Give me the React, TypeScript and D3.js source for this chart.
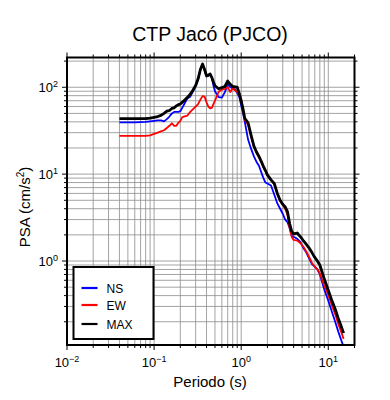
import * as d3 from 'd3'

const width = 390
const height = 400
const left = 67
const right = 354.5
const top = 57.5
const bottom = 345

// periods (s)
const periods = [
  0.04, 0.06, 0.08, 0.09, 0.1, 0.11, 0.12, 0.13, 0.14, 0.15, 0.16, 0.17, 0.18, 0.19, 0.2, 0.21, 0.22,
  0.24, 0.26, 0.28, 0.3, 0.32, 0.34, 0.36, 0.38, 0.4, 0.42, 0.44, 0.46, 0.48, 0.5, 0.55, 0.6, 0.65,
  0.7, 0.75, 0.8, 0.85, 0.9, 0.95, 1.0, 1.05, 1.1, 1.2, 1.3, 1.4, 1.5, 1.6, 1.7, 1.8, 1.9, 2.0, 2.2,
  2.4, 2.6, 2.8, 3.0, 3.2, 3.4, 3.6, 3.8, 4.0, 4.4, 4.8, 5.2, 5.6, 6.0, 6.5, 7.0, 7.5, 8.0, 9.0, 10,
  11, 12, 13, 14, 15,
]

const ns = [
  39.5, 39.5, 40, 40.5, 41, 41.5, 41.5, 40.5, 43, 46, 50, 52, 52, 52, 53, 58, 63,
  74, 78, 90, 103, 123, 158, 183, 158, 133, 136, 140, 128, 105, 90, 77, 76, 88,
  108, 100, 97, 94, 86, 78, 62, 50, 40, 25, 19.5, 16, 13.8, 12.5, 10.5, 9, 8, 7.8, 7.4,
  5.8, 4.6, 4.0, 3.5, 3.0, 2.8, 2.4, 1.95, 1.9, 1.8, 1.65, 1.4, 1.25, 1.08, 0.92, 0.86, 0.8, 0.7, 0.47, 0.35,
  0.26, 0.2, 0.155, 0.125, 0.103,
]

const ew = [
  27.5, 27.5, 27.5, 28, 29, 30, 31, 32, 34, 36, 38.5, 36, 36, 39, 41, 45, 46,
  47, 52, 56, 60, 64, 72, 79, 78, 67, 60, 57, 58, 64, 70, 88, 94, 96,
  100, 88, 98, 92, 88, 82, 72, 54, 42, 37, 27, 20.5, 17.5, 15.5, 13.8, 12, 10.8, 9.6, 8.6,
  7.6, 5.9, 4.9, 4.4, 4.0, 3.4, 2.4, 1.9, 1.75, 1.72, 1.6, 1.45, 1.28, 1.12, 0.95, 0.86, 0.8, 0.72, 0.52, 0.41,
  0.31, 0.245, 0.19, 0.155, 0.127,
]

const max = [
  43.5, 43.5, 43.5, 44, 45, 46, 47.5, 50, 53, 54, 57, 58, 61, 63, 64, 67, 70,
  76, 83, 93, 105, 125, 160, 185, 160, 135, 138, 142, 130, 115, 104, 96, 99, 102,
  118, 108, 102, 101, 100, 85, 70, 56, 44, 39, 28, 21, 18, 16, 14, 12.3, 11, 9.8, 8.6,
  7.8, 6.0, 5.0, 4.5, 4.2, 3.7, 2.7, 2.2, 2.05, 2.1, 1.9, 1.7, 1.55, 1.42, 1.25, 1.1, 1.0, 0.9, 0.62, 0.46,
  0.35, 0.28, 0.22, 0.18, 0.148,
]

const xTickExps = [-2, -1, 0, 1]
const yTickExps = [0, 1, 2]

const series = [
  { name: 'NS', values: ns, color: '#0000ff', width: 1.8 },
  { name: 'EW', values: ew, color: '#ff0000', width: 1.8 },
  { name: 'MAX', values: max, color: '#000000', width: 2.8 },
]

const font = '"Liberation Sans", Arial, Helvetica, sans-serif'

export default function App() {
  const x = d3.scaleLog([0.01, 20], [left, right])
  const y = d3.scaleLog([0.108, 220], [bottom, top])

  const xGrid = x.ticks()
  const yGrid = y.ticks()

  const line = (vals: number[]) =>
    d3
      .line<number>()
      .x((_, i) => x(periods[i]))
      .y(d => y(d))(vals) ?? ''

  const isMajor = (v: number) => Math.abs(Math.log10(v) - Math.round(Math.log10(v))) < 1e-6

  return (
    <svg
      width={width}
      height={height}
      viewBox={`0 0 ${width} ${height}`}
      style={{ position: 'absolute', left: 0, top: 0, background: '#fff' }}
      fontFamily={font}
    >
      <defs>
        <clipPath id="plot">
          <rect x={left} y={top} width={right - left} height={bottom - top} />
        </clipPath>
      </defs>

      {/* grid */}
      <g stroke="#8c8c8c" strokeWidth={0.8}>
        {xGrid.map((v, i) => (
          <line key={'gx' + i} x1={x(v)} x2={x(v)} y1={top} y2={bottom} />
        ))}
        {yGrid.map((v, i) => (
          <line key={'gy' + i} x1={left} x2={right} y1={y(v)} y2={y(v)} />
        ))}
      </g>

      {/* curves */}
      <g clipPath="url(#plot)" fill="none" strokeLinejoin="round">
        {series.map(s => (
          <path key={s.name} d={line(s.values)} stroke={s.color} strokeWidth={s.width} />
        ))}
      </g>

      {/* ticks on all sides */}
      <g stroke="#000" strokeWidth={1}>
        {xGrid.map((v, i) => {
          const len = isMajor(v) ? 5 : 3
          return (
            <g key={'tx' + i}>
              <line x1={x(v)} x2={x(v)} y1={bottom} y2={bottom + len} />
              <line x1={x(v)} x2={x(v)} y1={top} y2={top - len} />
            </g>
          )
        })}
        {yGrid.map((v, i) => {
          const len = isMajor(v) ? 5 : 3
          return (
            <g key={'ty' + i}>
              <line x1={left} x2={left - len} y1={y(v)} y2={y(v)} />
              <line x1={right} x2={right + len} y1={y(v)} y2={y(v)} />
            </g>
          )
        })}
      </g>

      {/* frame */}
      <rect
        x={left}
        y={top}
        width={right - left}
        height={bottom - top}
        fill="none"
        stroke="#000"
        strokeWidth={2}
      />

      {/* x tick labels */}
      {xTickExps.map(e => (
        <text key={'xl' + e} x={x(Math.pow(10, e))} y={367} textAnchor="middle" fontSize={13}>
          10
          <tspan dy={-5} fontSize={9}>
            {e < 0 ? '\u2212' + Math.abs(e) : e}
          </tspan>
        </text>
      ))}

      {/* y tick labels */}
      {yTickExps.map(e => (
        <text key={'yl' + e} x={58} y={y(Math.pow(10, e)) + 5} textAnchor="end" fontSize={13}>
          10
          <tspan dy={-5} fontSize={9}>
            {e}
          </tspan>
        </text>
      ))}

      {/* legend */}
      <rect x={73.5} y={267} width={80} height={72} fill="#fff" stroke="#000" strokeWidth={2} />
      {series.map((s, i) => {
        const ly = [288, 305, 324][i]
        return (
          <g key={'lg' + s.name}>
            <line x1={81.5} x2={97.5} y1={ly} y2={ly} stroke={s.color} strokeWidth={2.2} />
            <text x={106.5} y={ly + 4.5} fontSize={12}>
              {s.name}
            </text>
          </g>
        )
      })}

      {/* titles */}
      <text x={210} y={40.5} textAnchor="middle" fontSize={19.5}>
        CTP Jacó (PJCO)
      </text>
      <text x={210} y={387} textAnchor="middle" fontSize={15}>
        Periodo (s)
      </text>
      <text
        transform={`translate(30,207) rotate(-90)`}
        textAnchor="middle"
        fontSize={15}
      >
        PSA (cm/s
        <tspan dy={-6} fontSize={10}>
          2
        </tspan>
        <tspan dy={6}>)</tspan>
      </text>
    </svg>
  )
}
